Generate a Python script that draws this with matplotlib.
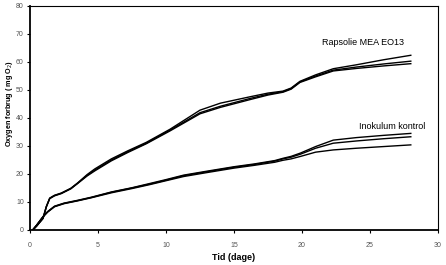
import matplotlib
matplotlib.use("Agg")
import matplotlib.pyplot as plt

plt.rcParams['font.family'] = ['Liberation Sans', 'DejaVu Sans']

# Rapsolie MEA EO13 - three replicates
t_rap = [0.2, 0.5, 0.96, 1.2, 1.45, 1.8, 2.3, 3.0, 3.5, 4.2, 4.76, 5.98, 7.2, 8.55,
         10.3, 12.5, 14.0, 16.2, 17.5, 18.6, 19.2, 19.85, 21.0, 22.3, 24.0, 26.0, 28.0]
rap_1 = [0.0, 1.5, 4.3, 8.4, 11.4, 12.4, 13.2, 14.9, 16.8, 19.8, 21.8, 25.4, 28.3, 31.3,
         36.0, 42.8, 45.3, 47.6, 48.9, 49.6, 50.7, 53.1, 55.4, 57.6, 59.0, 60.8, 62.4]
rap_2 = [0.0, 1.5, 4.2, 8.3, 11.3, 12.3, 13.1, 14.8, 16.7, 19.5, 21.4, 25.0, 28.0, 31.0,
         35.7, 41.9, 44.2, 47.0, 48.5, 49.4, 50.5, 52.9, 55.0, 57.1, 58.2, 59.3, 60.3]
rap_3 = [0.0, 1.5, 4.1, 8.2, 11.2, 12.2, 13.0, 14.7, 16.6, 19.3, 21.1, 24.7, 27.7, 30.8,
         35.4, 41.5, 43.8, 46.6, 48.2, 49.2, 50.3, 52.7, 54.7, 56.8, 57.7, 58.6, 59.4]

# Inokulum kontrol - three replicates
t_ino = [0.2, 0.5, 0.96, 1.3, 1.8, 2.5, 3.5, 4.5, 6.0, 7.5, 8.8, 10.0, 11.3, 13.0,
         15.0, 16.5, 18.0, 18.6, 19.2, 19.9, 21.0, 22.3, 24.0, 26.0, 28.0]
ino_1 = [0.0, 1.8, 4.8, 6.6, 8.5, 9.6, 10.6, 11.7, 13.6, 15.1, 16.6, 18.0, 19.6, 21.0,
         22.6, 23.6, 24.8, 25.6, 26.3, 27.5, 29.8, 32.1, 33.0, 33.8, 34.5]
ino_2 = [0.0, 1.8, 4.8, 6.5, 8.4, 9.5, 10.5, 11.6, 13.5, 15.0, 16.4, 17.8, 19.4, 20.8,
         22.4, 23.4, 24.6, 25.4, 26.0, 27.1, 29.2, 31.0, 31.8, 32.6, 33.3]
ino_3 = [0.0, 1.8, 4.7, 6.4, 8.3, 9.4, 10.4, 11.5, 13.3, 14.8, 16.2, 17.6, 19.1, 20.5,
         22.1, 23.1, 24.2, 24.9, 25.4, 26.3, 27.8, 28.6, 29.2, 29.8, 30.4]

x_ticks = [0, 5, 10, 15, 20, 25, 30]
y_ticks = [0, 10, 20, 30, 40, 50, 60, 70, 80]
label_rap = "Rapsolie MEA EO13"
label_ino = "Inokulum kontrol"

fig = plt.figure(figsize=(4.46, 2.65), dpi=100)
ax = fig.add_axes([30/446, 35/265, (438-30)/446, (230-6)/265])

for ys in (rap_1, rap_2, rap_3):
    ax.plot(t_rap, ys, color='black', lw=1.0)
for ys in (ino_1, ino_2, ino_3):
    ax.plot(t_ino, ys, color='black', lw=1.0)

ax.set_xlim(0, 30)
ax.set_ylim(0, 80)
ax.set_xticks(x_ticks)
ax.set_yticks(y_ticks)
ax.tick_params(axis='both', labelsize=5, colors='black', labelcolor='#555555',
               length=2.5, width=0.8, direction='out')
ax.tick_params(axis='x', pad=6)
ax.tick_params(axis='y', pad=2)
for sp in ax.spines.values():
    sp.set_linewidth(0.8)
ax.spines['left'].set_linewidth(1.3)
ax.spines['bottom'].set_linewidth(1.3)

ax.text(24.5, 67.1, label_rap, fontsize=6.5, ha='center', va='center')
ax.text(26.6, 36.8, label_ino, fontsize=6.5, ha='center', va='center')

ax.set_xlabel("Tid (dage)", fontsize=6.5, fontweight='bold', labelpad=3)
fig.text(10/446, 1 - 103/265, "Oxygen forbrug ( mg O$_2$)", fontsize=5.2,
         fontweight='bold', rotation=90, ha='center', va='center')

fig.savefig("out.png", dpi=100)
